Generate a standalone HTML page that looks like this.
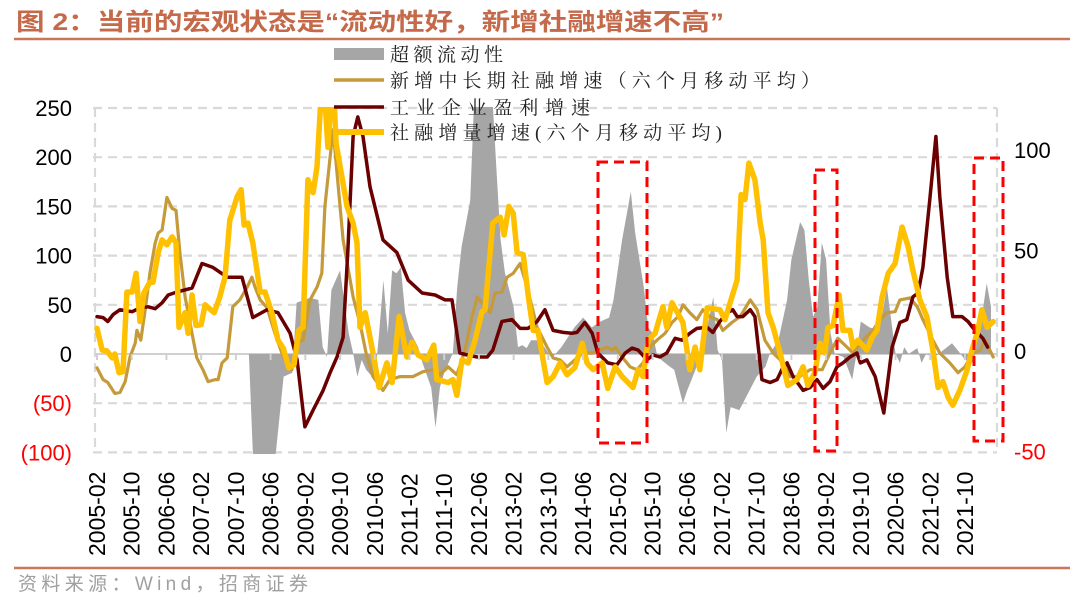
<!DOCTYPE html>
<html><head><meta charset="utf-8">
<style>
html,body{margin:0;padding:0;background:#fff;}
svg{display:block;}
</style></head>
<body>
<svg id="chart" width="1080" height="602" viewBox="0 0 1080 602" xmlns="http://www.w3.org/2000/svg">
<text x="16" y="30" fill="#c4694a" font-family="'Liberation Sans','Noto Sans CJK SC',sans-serif" font-size="24" font-weight="bold" textLength="708" lengthAdjust="spacingAndGlyphs">图 2：当前的宏观状态是“流动性好，新增社融增速不高”</text>
<line x1="14" y1="39" x2="1070" y2="39" stroke="#c8785a" stroke-width="2.5"/>
<line x1="14" y1="568" x2="1070" y2="568" stroke="#c8785a" stroke-width="2.5"/>
<text x="18" y="590" fill="#a0a0a0" font-family="'Liberation Sans','Noto Sans CJK SC',sans-serif" font-size="19" textLength="290">资料来源：Wind，招商证券</text>
<defs><clipPath id="plotClip"><rect x="93" y="107" width="906" height="347"/></clipPath></defs>
<g id="grid"></g>
<g id="marks" clip-path="url(#plotClip)"></g>
<g id="axes"></g>
<g id="boxes"></g>
<g id="legend"></g>
</svg>
<script>
// ---- data ----
const xTickLabels = ["2005-02","2005-10","2006-06","2007-02","2007-10","2008-06","2009-02","2009-10","2010-06","2011-02","2011-10","2012-06","2013-02","2013-10","2014-06","2015-02","2015-10","2016-06","2017-02","2017-10","2018-06","2019-02","2019-10","2020-06","2021-02","2021-10"];
const leftTicks = [250,200,150,100,50,0,-50,-100];
const rightTicks = [100,50,0,-50];
// month index since 2005-02
const grayM = [0,35,36,41,43,45,46,49,51,52,53,54,56,58,59,60,61,62,64,65,66,67,68,69,70,71,72,74,75,77,78,79,80,82,83,84,86,87,91,92,93,94,96,97,98,99,100,102,104,105,107,110,112,114,116,118,119,121,123,124,126,127,128,129,130,132,133,135,136,137,139,141,142,143,144,145,146,148,150,152,154,155,157,159,160,162,163,164,165,166,167,168,169,170,172,174,175,176,178,180,181,182,184,185,186,187,189,190,191,193,195,197,199,200,202,203,204,205,206];
const grayV = [0,0,-110,-110,-23,-19,52,57,55,7,-3,65,85,21,1,-23,-6,-16,-26,21,75,21,85,82,88,42,24,7,-9,-34,-75,-34,-19,1,68,109,156,270,270,190,116,82,48,7,9,6,14,14,1,-3,7,27,37,27,33,37,55,116,165,123,68,27,21,0,-6,-13,-16,-50,-37,-26,-3,35,58,4,-6,-80,-54,-57,-40,-23,-13,0,14,55,96,134,126,75,38,48,113,96,21,0,-3,-26,0,33,27,24,42,68,0,-9,7,0,6,-9,0,-3,4,11,0,-6,-9,21,42,72,48];
const goldM = [0,1.4,2.5,4.1,5.3,6.5,7.6,8.8,9.2,10.1,11.1,12.2,13.4,14.1,15,16.1,17.3,18.2,19.1,20.3,21.9,23,24.4,25.6,27.2,27.9,28.8,30,31.3,32.9,34.6,35.7,36.4,37.6,39.2,41,42.6,44,44.9,46.1,47.5,49.1,50.7,51.8,52.5,53.7,54.4,55.3,56.7,59,60.6,62.2,63.6,65.9,67.5,69.8,72.8,75.1,77.4,79,80.9,82.9,84.8,86.4,87.6,90.6,91.7,93.3,94.5,95.9,97.5,99.1,101.4,103.7,105.1,106.7,108.3,110.1,112,114.3,117.5,118.7,119.4,121,122.8,124.4,125.8,127.4,129,130.9,132.5,133.9,135,136.6,138.2,139.6,141.2,142.9,144.2,146.3,148.2,150.5,152.1,153.9,155.8,158.1,159.7,161.9,164.3,167.1,168.9,170.7,172.8,174.2,176.5,178.8,180.4,182,183.9,185,187.3,189,190.3,192.6,194.2,196.5,198.4,200,201.8,203.5,204.6,206.5];
const goldV = [-14,-26,-29,-40,-39,-28,-3,11,24,14,45,82,113,123,126,159,148,146,103,58,21,-4,-16,-28,-26,-26,-9,-4,48,55,68,78,68,55,47,21,1,-13,-16,11,14,55,68,82,150,200,228,184,116,58,31,-3,-23,-37,-26,-23,-23,-18,-16,-21,-13,-21,4,38,58,42,62,63,78,82,92,68,27,7,-4,-6,-13,-6,1,1,7,4,7,-3,-13,-16,-9,7,14,21,32,38,50,42,35,45,38,35,24,32,38,55,45,14,1,-9,-23,-23,-16,-16,1,16,7,1,14,24,35,42,43,55,57,48,35,14,1,-9,-19,-13,1,4,14,-3];
const darkM = [0,1.4,2.5,3.7,5.3,8.1,9.9,11.8,13.4,15,16.4,18.4,21.9,24.2,26.7,30,33.4,35.9,39.2,41.7,44.5,46.1,47.9,49.8,52.1,53.7,55.3,56.7,57.8,59,60.1,61.3,62.9,65.9,69.1,71.7,74.9,77.9,80.2,81.8,83.6,85.3,87.6,89.9,91.2,93.3,95.6,97.5,99.3,101.4,103.2,105.1,107.4,109.4,110.6,112.4,114.1,115.4,117.7,119.8,121.7,123.3,124.7,126.7,128.1,129.7,131.3,133.2,134.8,136.6,138.2,140.6,141.9,143.5,145.2,146.5,147.5,148.8,150.5,151.6,153.2,155.1,156.7,158.1,159,160.4,162.7,164.3,165.9,167.3,168.9,170.5,171.9,173.5,175.1,175.9,177.4,179.3,181.3,183.2,185,186.6,188,189.2,190.3,191.9,193.3,194.2,195.9,197.2,199.3,200.7,202.3,204.1,205.2];
const darkV = [38,37,33,40,45,43,47,48,46,52,60,63,67,92,88,78,78,37,45,42,21,-6,-74,-57,-37,-19,-3,17,106,221,241,221,170,116,103,75,62,60,55,55,1,-1,-3,-3,4,33,35,26,26,33,45,24,22,21,22,32,21,1,-9,-11,1,6,4,-6,-1,-3,1,16,14,21,26,27,22,33,42,45,38,38,45,38,-26,-29,-26,-13,-9,-23,-37,-34,-26,-35,-28,-13,-9,-3,1,-9,-6,-23,-60,7,32,35,58,62,88,157,221,160,78,38,38,33,24,16,7];
const yelM = [0,1.2,2.3,3.5,4.1,5.1,6,6.9,8.1,9,9.9,10.8,12.2,12.9,14.1,15,16.1,17.3,18.2,18.9,20.3,21,21.9,22.8,24,24.9,27,28.3,29.5,30.6,32.3,33.2,33.9,34.8,35.9,37.6,38.7,40.3,41.7,42.9,44.2,45.4,46.5,47.5,48.6,49.8,50.7,51.6,52.5,53.2,53.9,54.6,55.1,57.6,59,59.9,60.6,61.8,63.6,65,66.8,68,69.6,71.4,72.6,74,76,77.6,78.3,80.9,82,82.9,84.1,85.5,87.1,88.7,89.4,91.2,92.9,93.8,94.9,95.9,96.8,98.2,99.5,100.5,101.6,103.7,105.1,106.7,108.3,110.1,111.8,112.9,114.3,116.4,117.7,119.4,121,123.5,124.7,125.8,127,128.6,130.4,131.3,132.5,135,136.6,137.8,138.9,140.6,143.5,144.7,146.3,147.5,148.4,149.3,150.2,151.6,152.8,153.5,154.6,155.8,157.4,159.2,161.3,162.7,163.8,165.4,166.6,167.7,168.4,169.6,171,171.9,173.5,174.2,175.3,177.4,178.6,179.7,180.9,182.3,183.9,185.5,186.9,188,189.6,191.2,192.6,193.8,194.9,196.1,197.2,198.8,200.5,201.6,202.8,203.9,205.1,206.5];
const yelV = [26,4,3,-4,0,-19,-18,63,63,82,33,62,73,73,103,116,111,119,113,27,42,21,60,29,30,50,42,58,78,136,160,167,131,133,113,63,63,42,14,6,-14,-11,24,27,177,164,190,260,260,210,260,260,214,150,133,113,27,42,1,-34,-9,-29,38,-3,12,-1,-6,9,-26,-29,-26,-42,-6,-9,14,43,45,133,139,121,150,143,103,101,55,24,24,-29,-23,-9,-21,-14,11,-9,-16,-9,-35,-13,-23,-34,-16,-23,14,21,48,27,52,32,-16,7,-16,47,45,35,58,75,162,157,194,177,133,116,42,27,1,-32,-26,-13,-32,-19,11,1,27,29,60,24,24,7,14,4,17,24,58,82,92,129,109,85,55,38,4,-34,-28,-44,-52,-37,-16,4,21,45,27,33];

// ---- scales ----
const X0 = 97, PX_PER_MONTH = 4.34;
function xs(m){ return X0 + m*PX_PER_MONTH; }
function yL(v){ return 354 - v*0.984; }
function yR(v){ return 351 - v*2.01; }

const NS = "http://www.w3.org/2000/svg";
function mk(tag, attrs, parent){
  const e = document.createElementNS(NS, tag);
  for (const k in attrs) e.setAttribute(k, attrs[k]);
  parent.appendChild(e);
  return e;
}
const grid = document.getElementById('grid');
const marks = document.getElementById('marks');
const axes = document.getElementById('axes');
const boxes = document.getElementById('boxes');
const legend = document.getElementById('legend');

leftTicks.forEach(v => {
  if (v === 0) return;
  const l = mk('line', {x1:93, x2:997, y1:yL(v), y2:yL(v), stroke:'#d9d9d9', 'stroke-width':2.2, 'stroke-dasharray':'9 6'}, grid);
  
  
});
[95, 997].forEach((x,i) => {
  const l = mk('line', {x1:x, x2:x, y1:yL(250), y2:yL(-100), stroke:'#d9d9d9', 'stroke-width':2.2, 'stroke-dasharray':'9 6'}, grid);
  
  
});

let d = 'M' + xs(grayM[0]) + ' ' + yL(0);
grayM.forEach((m,i) => { d += ' L' + xs(m).toFixed(1) + ' ' + yL(grayV[i]).toFixed(1); });
d += ' L' + xs(grayM[grayM.length-1]).toFixed(1) + ' ' + yL(0) + ' Z';
const area = mk('path', {d:d, fill:'#a6a6a6', stroke:'none'}, marks);



const zl = mk('line', {x1:95, x2:997, y1:yL(0), y2:yL(0), stroke:'#d0d0d0', 'stroke-width':2}, grid);



function line(M, V, color, w, name){
  const pts = M.map((m,i) => xs(m).toFixed(1) + ',' + yL(V[i]).toFixed(1)).join(' ');
  const p = mk('polyline', {points:pts, fill:'none', stroke:color, 'stroke-width':w, 'stroke-linejoin':'round', 'stroke-linecap':'round'}, marks);
  
  
}
line(goldM, goldV, '#c49a3a', 3.2, 'long-term-tsf-growth-line');
line(darkM, darkV, '#6b0000', 3.5, 'industrial-profit-growth-line');
line(yelM, yelV, '#ffc000', 5.5, 'tsf-increment-growth-line');

xTickLabels.forEach((lab, i) => {
  const m = i*8, x = xs(m);
  const t = mk('line', {x1:x, x2:x, y1:yL(0), y2:yL(0)+6, stroke:'#d0d0d0', 'stroke-width':2}, axes);
  
  
  const tx = mk('text', {x:0, y:0, transform:'translate(' + (x+8) + ',556) rotate(-90)', 'font-family':"'Liberation Sans',sans-serif", 'font-size':23, fill:'#000'}, axes);
  tx.textContent = lab;
  
  
});
leftTicks.forEach(v => {
  const tx = mk('text', {x:72, y:yL(v)+8, 'text-anchor':'end', 'font-family':"'Liberation Sans',sans-serif", 'font-size':22, fill: v<0 ? '#ff0000' : '#000'}, axes);
  tx.textContent = v < 0 ? '(' + (-v) + ')' : String(v);
  
  
});
rightTicks.forEach(v => {
  const tx = mk('text', {x:1014, y:yR(v)+8, 'font-family':"'Liberation Sans',sans-serif", 'font-size':22, fill: v<0 ? '#ff0000' : '#000'}, axes);
  tx.textContent = String(v);
  
  
});

[[598,162,49,281],[815,170,22,281],[974,158,29,283]].forEach((b,i) => {
  const r = mk('rect', {x:b[0], y:b[1], width:b[2], height:b[3], fill:'none', stroke:'#ff0000', 'stroke-width':3, 'stroke-dasharray':'10 6'}, boxes);
  
  
});

const lf = "'Liberation Serif','Noto Serif CJK SC',serif";
const legItems = [
  {t:'超额流动性', y:54, kind:'rect', w:113, name:'legend-excess-liquidity'},
  {t:'新增中长期社融增速（六个月移动平均）', y:80, kind:'line', color:'#c49a3a', sw:3.5, w:430, name:'legend-long-term-tsf'},
  {t:'工业企业盈利增速', y:107, kind:'line', color:'#6b0000', sw:3.5, w:200, name:'legend-industrial-profit'},
  {t:'社融增量增速(六个月移动平均)', y:132, kind:'line', color:'#ffc000', sw:6, w:332, name:'legend-tsf-increment'}
];
legItems.forEach(it => {
  if (it.kind === 'rect') {
    const r = mk('rect', {x:334, y:it.y-6, width:50, height:12, fill:'#a6a6a6'}, legend);
    
    
  } else {
    const l = mk('line', {x1:334, x2:384, y1:it.y, y2:it.y, stroke:it.color, 'stroke-width':it.sw}, legend);
    
    
  }
  const tx = mk('text', {x:390, y:it.y+7, 'font-family':lf, 'font-size':19, fill:'#222', textLength:it.w, lengthAdjust:'spacing'}, legend);
  tx.textContent = it.t;
  
  
});
</script>
</body></html>
